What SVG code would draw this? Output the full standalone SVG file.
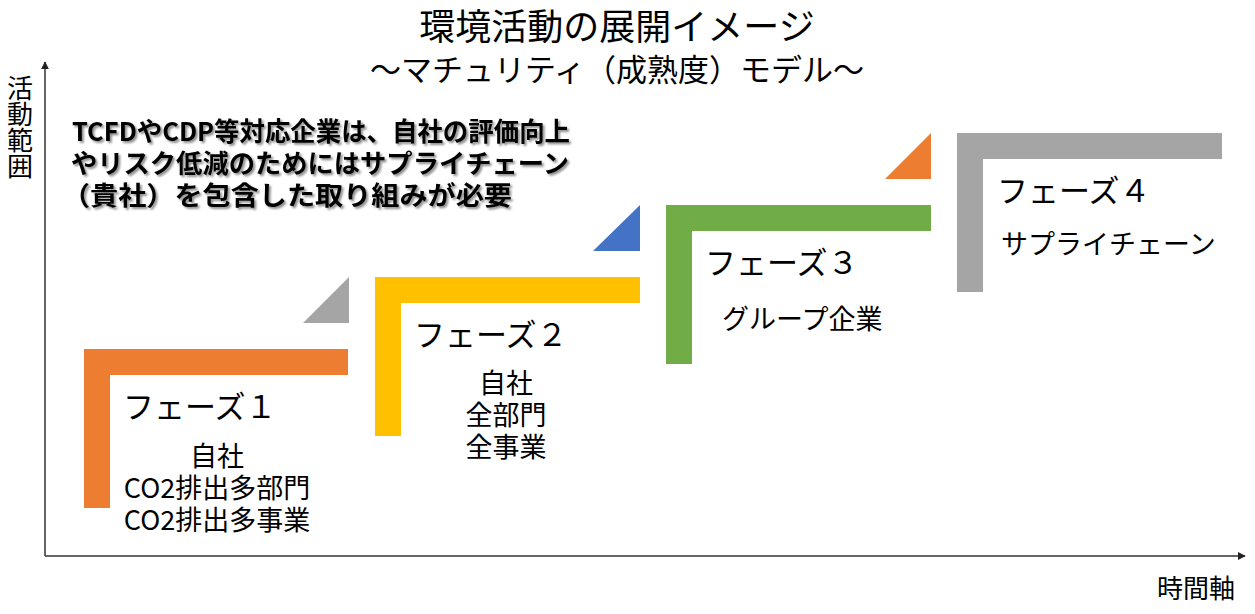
<svg xmlns="http://www.w3.org/2000/svg" width="1255" height="614" viewBox="0 0 1255 614">
<style>
text{font-family:"Noto Sans CJK JP","Noto Sans",sans-serif;fill:#000}
.title{font-size:36px;text-anchor:middle}
.sub{font-size:31px;text-anchor:middle}
.ph{font-size:31px}
.desc{font-size:27px}
.mid{text-anchor:middle}
.bold{font-size:26px;font-weight:bold}
.axis{font-size:26px}
.vert{writing-mode:vertical-rl}
.ax{stroke:#333;stroke-width:1.5;fill:none}
</style>
<defs>
<marker id="arr" viewBox="0 0 10 10" refX="9" refY="5" markerWidth="8" markerHeight="8" markerUnits="userSpaceOnUse" orient="auto">
<path d="M0,0 L10,5 L0,10 Z" fill="#222"/>
</marker>
<filter id="sh" x="-5%" y="-20%" width="110%" height="140%">
<feGaussianBlur in="SourceAlpha" stdDeviation="1.2"/>
<feOffset dx="2" dy="2" result="b"/>
<feComponentTransfer><feFuncA type="linear" slope="0.45"/></feComponentTransfer>
<feMerge><feMergeNode/><feMergeNode in="SourceGraphic"/></feMerge>
</filter>
</defs>
<rect width="1255" height="614" fill="#fff"/>

<g id="title">
<text class="title" x="617" y="40">環境活動の展開イメージ</text>
<text class="sub" x="617" y="81">〜マチュリティ（成熟度）モデル〜</text>
</g>

<g id="connectors">
<line class="ax" x1="45" y1="556" x2="45" y2="62" marker-end="url(#arr)"/>
<line class="ax" x1="45" y1="556" x2="1245" y2="556" marker-end="url(#arr)"/>
</g>

<g id="axis-labels">
<text class="axis vert" x="20" y="75">活動範囲</text>
<text class="axis" x="1157" y="598">時間軸</text>
</g>

<g id="message" filter="url(#sh)">
<text class="bold" x="72" y="141" textLength="498" lengthAdjust="spacingAndGlyphs">TCFDやCDP等対応企業は、自社の評価向上</text>
<text class="bold" x="71" y="173" textLength="498" lengthAdjust="spacingAndGlyphs">やリスク低減のためにはサプライチェーン</text>
<text class="bold" x="62" y="205" textLength="450" lengthAdjust="spacingAndGlyphs">（貴社）を包含した取り組みが必要</text>
</g>

<g id="phase1">
<polygon points="84,349 348,349 348,375 110,375 110,508 84,508" fill="#ED7D31"/>
<polygon points="303,323 349,323 349,277" fill="#A5A5A5"/>
<text class="ph" x="123" y="418">フェーズ１</text>
<text class="desc mid"><tspan x="217" y="466">自社</tspan><tspan x="217" y="498">CO2排出多部門</tspan><tspan x="217" y="530">CO2排出多事業</tspan></text>
</g>

<g id="phase2">
<polygon points="375,277 640,277 640,303 401,303 401,436 375,436" fill="#FFC000"/>
<polygon points="593,251 640,251 640,205" fill="#4472C4"/>
<text class="ph" x="414" y="346">フェーズ２</text>
<text class="desc mid"><tspan x="506" y="393">自社</tspan><tspan x="506" y="425">全部門</tspan><tspan x="506" y="457">全事業</tspan></text>
</g>

<g id="phase3">
<polygon points="666,205 931,205 931,231 692,231 692,364 666,364" fill="#70AD47"/>
<polygon points="885,179 931,179 931,133" fill="#ED7D31"/>
<text class="ph" x="705" y="274">フェーズ３</text>
<text class="desc" x="722" y="329">グループ企業</text>
</g>

<g id="phase4">
<polygon points="957,133 1222,133 1222,159 983,159 983,292 957,292" fill="#A5A5A5"/>
<text class="ph" x="997" y="202">フェーズ４</text>
<text class="desc" x="1001" y="254">サプライチェーン</text>
</g>
</svg>
